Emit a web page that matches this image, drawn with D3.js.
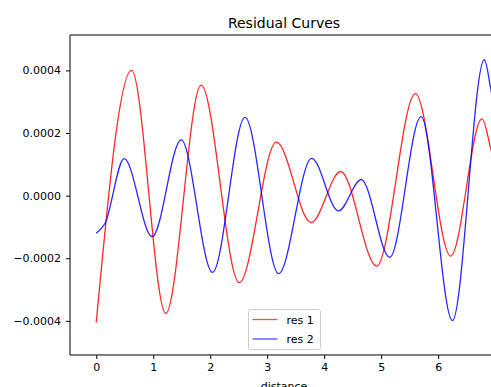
<!DOCTYPE html>
<html>
<head>
<meta charset="utf-8">
<script src="https://cdn.jsdelivr.net/npm/d3@7"></script>
<style>
  body { margin: 0; background: #fff; }
  text { font-family: "DejaVu Sans", sans-serif; fill: #000; }
</style>
</head>
<body>
<svg id="chart" width="491" height="387"></svg>
<script>
// residual curves (x = distance)
const res1X = [0, 0.62, 1.22, 1.84, 2.51, 3.16, 3.77, 4.29, 4.92, 5.60, 6.22, 6.77, 6.92, 7.30];
const res1Y = [-0.000405, 0.000400, -0.000376, 0.000353, -0.000278, 0.000171, -0.000086, 0.000077,
  -0.000225, 0.000326, -0.000193, 0.000245, 0.000152, -0.000200];

const res2X = [0, 0.15, 0.49, 0.98, 1.49, 2.04, 2.61, 3.20, 3.78, 4.25, 4.65, 5.15, 5.70, 6.25, 6.81, 6.92, 7.35];
const res2Y = [-0.000120, -0.000090, 0.000118, -0.000131, 0.000178, -0.000245, 0.000250, -0.000249, 0.000119,
  -0.000049, 0.000051, -0.000197, 0.000252, -0.000399, 0.000434, 0.000344, -0.000300];

const xTicks = [0, 1, 2, 3, 4, 5, 6];
const yTicks = [-0.0004, -0.0002, 0, 0.0002, 0.0004];

const svg = d3.select('#chart');
const margin = { left: 70, top: 35, right: 498, bottom: 355 };

const xScale = d3.scaleLinear().domain([-0.461, 7.05]).range([margin.left, margin.right]);
const yScale = d3.scaleLinear().domain([-0.000509, 0.000513]).range([margin.bottom, margin.top]);

svg.append('rect').attr('width', 491).attr('height', 387).attr('fill', '#fff');

svg.append('clipPath').attr('id', 'plot-clip')
  .append('rect')
  .attr('x', margin.left).attr('y', margin.top)
  .attr('width', margin.right - margin.left).attr('height', margin.bottom - margin.top);

// the lines
const line = d3.line()
  .x((d) => xScale(d[0]))
  .y((d) => yScale(d[1]))
  .curve(d3.curveMonotoneX);

const series = [
  { name: 'res 1', color: '#ff0000', pts: d3.zip(res1X, res1Y) },
  { name: 'res 2', color: '#0000ff', pts: d3.zip(res2X, res2Y) },
];

const plot = svg.append('g').attr('clip-path', 'url(#plot-clip)');
series.forEach((s) => {
  plot.append('path')
    .datum(s.pts)
    .attr('fill', 'none')
    .attr('stroke', s.color)
    .attr('stroke-opacity', 0.85)
    .attr('stroke-width', 1.3)
    .attr('d', line);
});

// axes
const fmtY = (v) => (v < 0 ? '\u2212' : '') + Math.abs(v).toFixed(4);

svg.append('g')
  .attr('transform', `translate(0,${margin.bottom})`)
  .call(d3.axisBottom(xScale).tickValues(xTicks).tickSize(4).tickPadding(4).tickFormat(d3.format('d')))
  .call((g) => g.selectAll('text').attr('font-size', 11).attr('font-family', 'DejaVu Sans'))
  .call((g) => g.select('.domain').remove());

svg.append('g')
  .attr('transform', `translate(${margin.left},0)`)
  .call(d3.axisLeft(yScale).tickValues(yTicks).tickSize(4).tickPadding(5).tickFormat(fmtY))
  .call((g) => g.selectAll('text').attr('font-size', 11).attr('font-family', 'DejaVu Sans'))
  .call((g) => g.select('.domain').remove());

// spines (left, top, bottom; right one is outside the crop)
svg.append('path')
  .attr('d', `M${margin.right},${margin.top}H${margin.left}V${margin.bottom}H${margin.right}`)
  .attr('fill', 'none')
  .attr('stroke', '#000')
  .attr('stroke-width', 1);

svg.append('text')
  .attr('x', (margin.left + margin.right) / 2)
  .attr('y', 28)
  .attr('text-anchor', 'middle')
  .attr('font-size', 14)
  .text('Residual Curves');

svg.append('text')
  .attr('x', (margin.left + margin.right) / 2)
  .attr('y', 390)
  .attr('text-anchor', 'middle')
  .attr('font-size', 11)
  .text('distance');

// legend
const legend = svg.append('g').attr('transform', 'translate(248.5,309.5)');
legend.append('rect')
  .attr('width', 72).attr('height', 40).attr('rx', 2)
  .attr('fill', '#fff').attr('fill-opacity', 0.8)
  .attr('stroke', '#cccccc').attr('stroke-width', 1);

series.forEach((s, i) => {
  const y = 10 + i * 19.5;
  legend.append('line')
    .attr('x1', 4).attr('x2', 29).attr('y1', y).attr('y2', y)
    .attr('stroke', s.color).attr('stroke-opacity', 0.7).attr('stroke-width', 1.3);
  legend.append('text')
    .attr('x', 38).attr('y', y + 4)
    .attr('font-size', 11)
    .text(s.name);
});
</script>
</body>
</html>
